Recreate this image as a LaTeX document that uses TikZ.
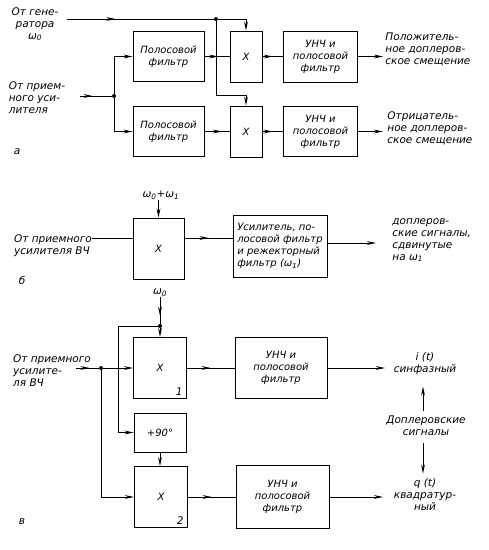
\documentclass[tikz,border=0pt]{standalone}
\usepackage{fontspec}
\setmainfont{DejaVu Sans}
\usetikzlibrary{arrows.meta,decorations.markings}
\newcommand{\om}[1]{ω\textsubscript{#1}}
\newcommand{\gost}{\fontsize{10.5}{12}\selectfont\itshape}
\newcommand{\gostbox}{\fontsize{10}{12}\selectfont\itshape}

\tikzset{
  blk/.style={draw,line width=0.9pt,align=center,inner sep=1pt,font=\gostbox},
  lbl/.style={align=left,inner sep=0pt,font=\gost},
  jdot/.style={circle,fill,inner sep=0pt,minimum size=4pt},
  midarrow/.style={postaction={decorate},decoration={markings,
      mark=at position #1 with {\arrow{Stealth[length=9pt,width=3.8pt]}}}},
  midarrow/.default=0.5,
}

\begin{document}
\begin{tikzpicture}[x=1pt,y=-1pt,line width=0.9pt,>={Stealth[length=9pt,width=3.8pt]}]
\useasboundingbox (0,0) rectangle (489,550);

% --- a ---
\node[lbl,align=center] (genA) at (35,24) {От гене-\\ратора\\\om{0}};
\node[lbl] (rcvA) at (37,98) {От прием-\\ного уси-\\лителя};
\node[blk,minimum width=71pt,minimum height=50pt] (bpfA1) at (168.5,56.5) {Полосовой\\фильтр};
\node[blk,minimum width=71pt,minimum height=50pt] (bpfA2) at (168.5,131.5) {Полосовой\\фильтр};
\node[blk,minimum width=32pt,minimum height=51pt] (mixA1) at (246,56.5) {X};
\node[blk,minimum width=32pt,minimum height=51pt] (mixA2) at (246,131.5) {X};
\node[blk,minimum width=74pt,minimum height=51pt] (lpfA1) at (320.5,56.5) {УНЧ и\\полосовой\\фильтр};
\node[blk,minimum width=74pt,minimum height=50pt] (lpfA2) at (320.5,131.5) {УНЧ и\\полосовой\\фильтр};
\node[lbl,anchor=west] (posA) at (385,49) {Положитель-\\ное доплеров-\\ское смещение};
\node[lbl,anchor=west] (negA) at (387,128) {Отрицатель-\\ное доплеров-\\ское смещение};
\node[lbl] (capA) at (17,152) {а};
\coordinate (genin) at (67,19);
\coordinate (rcvin) at (80,96);
\coordinate (bendA) at (216,95);
\coordinate (outA1) at (383,56.5);
\coordinate (outA2) at (383,131.5);
\node[jdot] (jA) at (216,19) {};
\node[jdot] (jB) at (114,96) {};
\draw[midarrow=0.33] (genin) -- (jA);
\draw[->] (jA) -| (mixA1.north);
\draw (jA) -- (bendA);
\draw[->] (bendA) -| (mixA2.north);
\draw[midarrow=0.4] (rcvin) -- (jB);
\draw[->] (jB) |- (bpfA1.west);
\draw[->] (jB) |- (bpfA2.west);
\draw[midarrow=0.55] (bpfA1) -- (mixA1);
\draw[midarrow=0.7] (bpfA2) -- (mixA2);
\draw[midarrow] (mixA1) -- (lpfA1);
\draw[midarrow] (mixA2) -- (lpfA2);
\draw[->] (lpfA1) -- (outA1);
\draw[->] (lpfA2) -- (outA2);

% --- b ---
\node[lbl,align=center] (omB) at (161,195) {\om{0}+\om{1}};
\node[lbl] (rcvB) at (53,246) {От приемного\\усилителя ВЧ};
\node[blk,minimum width=51pt,minimum height=61pt] (mixB) at (158.5,248.5) {X};
\node[blk,align=left,minimum width=94pt,minimum height=62pt] (fltB) at (280,246) {Усилитель, по-\\лосовой фильтр\\и режекторный\\фильтр (\om{1})};
\node[lbl,anchor=west] (dopB) at (392,240) {доплеров-\\ские сигналы,\\сдвинутые\\на \om{1}};
\node[lbl] (capB) at (22,280) {б};
\coordinate (inB) at (92,238);
\coordinate (outB) at (376,243);
\draw[->] (omB.south -| mixB.north) -- (mixB.north);
\draw (inB) -- (inB -| mixB.west);
\draw[midarrow] (mixB.east |- inB) -- (fltB.west |- inB);
\draw[->] (fltB.east |- outB) -- (outB);

% --- v ---
\node[lbl] (omC) at (160,293) {\om{0}};
\node[lbl] (rcvC) at (52,371) {От приемного\\усилите-\\ля ВЧ};
\node[blk,minimum width=53pt,minimum height=61pt] (mixC1) at (160,368) {X};
\node[blk,minimum width=52pt,minimum height=39pt] (phC) at (160,432.5) {+90°};
\node[blk,minimum width=53pt,minimum height=61pt] (mixC2) at (161,497) {X};
\node[lbl,anchor=south east] at ([xshift=-4pt,yshift=3pt]mixC1.south east) {1};
\node[lbl,anchor=south east] at ([xshift=-4pt,yshift=3pt]mixC2.south east) {2};
\node[blk,minimum width=92pt,minimum height=61pt] (lpfC1) at (281,368) {УНЧ и\\полосовой\\фильтр};
\node[blk,minimum width=93pt,minimum height=63pt] (lpfC2) at (282.5,497) {УНЧ и\\полосовой\\фильтр};
\node[lbl,align=center] (iph) at (425,364) {i (t)\\синфазный};
\node[lbl,align=center] (dopC) at (426,426) {Доплеровские\\сигналы};
\node[lbl,align=center] (quad) at (425,495) {q (t)\\квадратур-\\ный};
\node[lbl] (capC) at (22,522) {в};
\coordinate (inC) at (76,368);
\coordinate (kC) at (118,326);
\coordinate (outC1) at (385,368);
\coordinate (outC2) at (383,497);
\node[jdot] (jC) at (160,326) {};
\node[jdot] (jD) at (101,368) {};
\draw[midarrow=0.7] (omC) -- (jC);
\draw[->] (jC) -- (mixC1);
\draw[->] (jC) -- (kC) |- (phC.west);
\draw[->] (phC) -- (phC.south |- mixC2.north);
\draw[midarrow=0.6] (inC) -- (jD);
\draw[->] (jD) -- (mixC1);
\draw[->] (jD) |- (mixC2.west);
\draw[midarrow] (mixC1) -- (lpfC1);
\draw[midarrow] (mixC2) -- (lpfC2);
\draw[->] (lpfC1) -- (outC1);
\draw[->] (lpfC2) -- (outC2);
\draw[->,shorten <=5pt,shorten >=11pt] (dopC.north -| 423,0) -- (iph.south -| 423,0);
\draw[->,shorten <=7pt,shorten >=5pt] (dopC.south -| 423,0) -- (quad.north -| 423,0);
\end{tikzpicture}
\end{document}
